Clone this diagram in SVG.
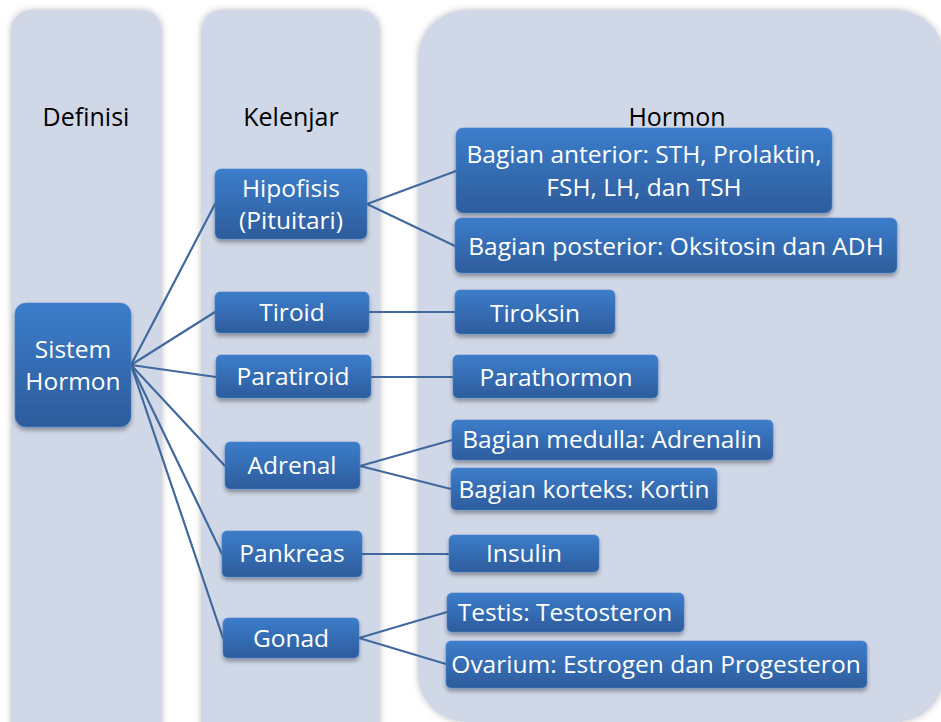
<svg xmlns="http://www.w3.org/2000/svg" width="941" height="722" viewBox="0 0 941 722">
<defs>
  <linearGradient id="nodeGrad" x1="0" y1="0" x2="0" y2="1">
    <stop offset="0" stop-color="#3c7dcb"/>
    <stop offset="1" stop-color="#2d5c9c"/>
  </linearGradient>
  <filter id="nodeShadow" x="-10%" y="-20%" width="120%" height="150%">
    <feDropShadow dx="0" dy="3" stdDeviation="2" flood-color="#000" flood-opacity="0.35"/>
  </filter>
  <filter id="panelShadow" x="-10%" y="-10%" width="120%" height="120%">
    <feDropShadow dx="0" dy="0" stdDeviation="3" flood-color="#000" flood-opacity="0.25"/>
  </filter>
</defs>
<style>
  .panel { fill: #d0d8e8; filter: url(#panelShadow); }
  .node { fill: url(#nodeGrad); stroke: #4a85cc; stroke-width: 0.6; filter: url(#nodeShadow); }
  .nt { font-family: "Open Sans", "Liberation Sans", sans-serif; font-size: 24.5px; fill: #ffffff; text-anchor: middle; }
  .hd { font-family: "Open Sans", "Liberation Sans", sans-serif; font-size: 25px; fill: #000000; text-anchor: middle; }
  .conn { stroke: #41699f; stroke-width: 2.2; fill: none; stroke-linecap: round; }
</style>
<rect x="0" y="0" width="941" height="722" fill="#ffffff"/>

<g id="panels">
  <rect class="panel" x="11" y="10" width="151" height="740" rx="20" ry="20"/>
  <rect class="panel" x="201" y="10" width="179" height="740" rx="20" ry="20"/>
  <rect class="panel" x="418" y="10" width="526" height="712" rx="48" ry="48"/>
  <text class="hd" x="86" y="126">Definisi</text>
  <text class="hd" x="291" y="126">Kelenjar</text>
  <text class="hd" x="677" y="126">Hormon</text>
</g>

<g id="connectors">
  <line class="conn" x1="131" y1="365" x2="215" y2="204"/>
  <line class="conn" x1="131" y1="365" x2="215" y2="312"/>
  <line class="conn" x1="131" y1="365" x2="216" y2="377"/>
  <line class="conn" x1="131" y1="365" x2="225" y2="466"/>
  <line class="conn" x1="131" y1="365" x2="222" y2="554"/>
  <line class="conn" x1="131" y1="365" x2="223" y2="638"/>
  <line class="conn" x1="367" y1="204" x2="456" y2="171"/>
  <line class="conn" x1="367" y1="204" x2="455" y2="246"/>
  <line class="conn" x1="369" y1="312" x2="455" y2="312"/>
  <line class="conn" x1="371" y1="377" x2="453" y2="377"/>
  <line class="conn" x1="360" y1="466" x2="452" y2="440"/>
  <line class="conn" x1="360" y1="466" x2="451" y2="489"/>
  <line class="conn" x1="362" y1="554" x2="449" y2="554"/>
  <line class="conn" x1="359" y1="638" x2="447" y2="612"/>
  <line class="conn" x1="359" y1="638" x2="446" y2="664"/>
</g>

<g id="sistem-hormon">
  <rect class="node" x="15" y="303" width="116" height="124" rx="11"/>
  <text class="nt" x="73" y="358">Sistem</text>
  <text class="nt" x="73" y="390">Hormon</text>
</g>

<g id="hipofisis">
  <rect class="node" x="215" y="169" width="152" height="70" rx="6"/>
  <text class="nt" x="291" y="197">Hipofisis</text>
  <text class="nt" x="291" y="229">(Pituitari)</text>
</g>
<g id="tiroid">
  <rect class="node" x="215" y="292" width="154" height="41" rx="5"/>
  <text class="nt" x="292" y="321">Tiroid</text>
</g>
<g id="paratiroid">
  <rect class="node" x="216" y="355" width="155" height="43" rx="5"/>
  <text class="nt" x="293" y="385">Paratiroid</text>
</g>
<g id="adrenal">
  <rect class="node" x="225" y="442" width="135" height="47" rx="5"/>
  <text class="nt" x="292" y="474">Adrenal</text>
</g>
<g id="pankreas">
  <rect class="node" x="222" y="531" width="140" height="46" rx="5"/>
  <text class="nt" x="292" y="562">Pankreas</text>
</g>
<g id="gonad">
  <rect class="node" x="223" y="618" width="136" height="40" rx="5"/>
  <text class="nt" x="291" y="647">Gonad</text>
</g>

<g id="anterior">
  <rect class="node" x="456" y="128" width="376" height="85" rx="7"/>
  <text class="nt" x="644" y="163">Bagian anterior: STH, Prolaktin,</text>
  <text class="nt" x="644" y="196">FSH, LH, dan TSH</text>
</g>
<g id="posterior">
  <rect class="node" x="455" y="218" width="442" height="55" rx="6"/>
  <text class="nt" x="676" y="255">Bagian posterior: Oksitosin dan ADH</text>
</g>
<g id="tiroksin">
  <rect class="node" x="455" y="290" width="160" height="44" rx="5"/>
  <text class="nt" x="535" y="322">Tiroksin</text>
</g>
<g id="parathormon">
  <rect class="node" x="453" y="355" width="205" height="43" rx="5"/>
  <text class="nt" x="556" y="386">Parathormon</text>
</g>
<g id="medulla">
  <rect class="node" x="452" y="420" width="321" height="40" rx="5"/>
  <text class="nt" x="612" y="448">Bagian medulla: Adrenalin</text>
</g>
<g id="korteks">
  <rect class="node" x="451" y="468" width="266" height="42" rx="5"/>
  <text class="nt" x="584" y="498">Bagian korteks: Kortin</text>
</g>
<g id="insulin">
  <rect class="node" x="449" y="535" width="150" height="37" rx="5"/>
  <text class="nt" x="524" y="562">Insulin</text>
</g>
<g id="testis">
  <rect class="node" x="447" y="593" width="237" height="39" rx="5"/>
  <text class="nt" x="565" y="621">Testis: Testosteron</text>
</g>
<g id="ovarium">
  <rect class="node" x="446" y="641" width="421" height="47" rx="5"/>
  <text class="nt" x="656" y="673">Ovarium: Estrogen dan Progesteron</text>
</g>
</svg>
